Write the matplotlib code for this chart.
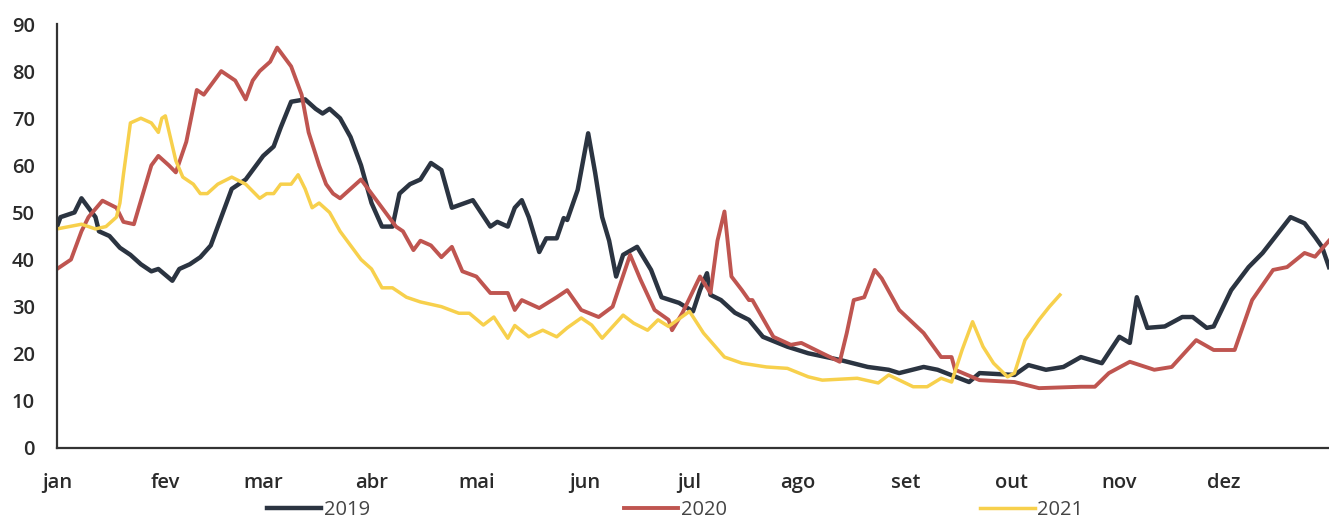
import matplotlib
matplotlib.use("Agg")
import matplotlib.pyplot as plt

plt.rcParams['font.family'] = ['Open Sans', 'DejaVu Sans']

# month ticks (day of year) and labels
month_days = [0, 31, 59, 90, 120, 151, 181, 212, 243, 273, 304, 334]
month_labels = ['jan', 'fev', 'mar', 'abr', 'mai', 'jun', 'jul', 'ago', 'set', 'out', 'nov', 'dez']

# 2019 series (day of year, value)
days_2019 = [0, 1, 5, 7, 11, 12, 15, 18, 21, 24, 27, 29, 33, 35, 38, 41, 44, 47, 50, 54,
             57, 59, 62, 64, 67, 71, 74, 76, 78, 81, 84, 87, 90, 93, 96, 98, 101, 104, 107, 110,
             113, 119, 124, 126, 129, 131, 133, 135, 138, 140, 143, 145, 146, 149, 152, 154, 156, 158, 160, 162,
             166, 170, 173, 178, 182, 184, 186, 187, 190, 194, 198, 202, 209, 215, 224, 232, 238, 241, 248, 252,
             261, 264, 274, 278, 283, 288, 293, 299, 304, 307, 309, 312, 317, 322, 325, 329, 331, 336, 341, 345,
             353, 357, 360, 362, 364]
vals_2019 = [47, 49, 50, 53, 49, 46, 45, 42.5, 41, 39, 37.5, 38, 35.5, 38, 39, 40.5, 43, 49, 55, 57,
             60, 62, 64, 68, 73.5, 74, 72, 71, 72, 70, 66, 60, 52, 47, 47, 54, 56, 57, 60.5, 59,
             51, 52.6, 47, 48, 47, 51, 52.6, 49, 41.6, 44.5, 44.5, 48.8, 48.4, 54.8, 66.8, 58.4, 49, 44, 36.4, 41,
             42.7, 37.8, 32, 30.8, 29, 33.5, 37.1, 32.5, 31.4, 28.7, 27.2, 23.6, 21.5, 20.1, 18.7, 17.2, 16.6, 15.9, 17.2, 16.6,
             14, 15.9, 15.5, 17.6, 16.6, 17.2, 19.3, 18, 23.6, 22.3, 32, 25.5, 25.8, 27.8, 27.8, 25.5, 25.8, 33.5, 38.4, 41.4,
             49, 47.7, 44.8, 42.7, 38.4]

days_2020 = [0, 4, 7, 9, 13, 17, 19, 22, 25, 27, 29, 32, 34, 37, 40, 42, 46, 47, 51, 54,
             56, 58, 61, 63, 67, 70, 72, 75, 77, 79, 81, 84, 87, 90, 94, 97, 99, 102, 104, 107,
             110, 113, 116, 120, 124, 129, 131, 133, 138, 143, 146, 150, 155, 159, 164, 167, 171, 175, 176, 179,
             184, 187, 189, 191, 193, 196, 198, 199, 205, 210, 213, 219, 224, 226, 228, 231, 234, 236, 241, 248,
             253, 256, 257, 264, 274, 281, 293, 297, 301, 307, 314, 319, 326, 331, 337, 342, 348, 352, 357, 360,
             364]
vals_2020 = [38, 40, 46, 49, 52.5, 51, 48, 47.5, 55, 60, 62, 60, 58.5, 65, 76, 75, 79, 80, 78, 74,
             78, 80, 82, 85, 81, 75, 67, 60, 56, 54, 53, 55, 57, 54, 50, 47, 46, 42, 44, 43,
             40.5, 42.7, 37.5, 36.4, 32.9, 32.9, 29.3, 31.4, 29.7, 32, 33.5, 29.3, 27.8, 30, 41, 35.7, 29.3, 27.2, 25, 28.7,
             36.4, 32.9, 44, 50.2, 36.4, 33.5, 31.4, 31.4, 23.6, 21.9, 22.3, 20.1, 18.3, 24.4, 31.4, 32, 37.8, 36, 29.3, 24.4,
             19.3, 19.3, 16.6, 14.4, 14, 12.7, 13, 13, 15.9, 18.3, 16.6, 17.2, 22.9, 20.8, 20.8, 31.4, 37.8, 38.4, 41.4, 40.6,
             44]

days_2021 = [0, 7, 11, 14, 17, 18, 19, 21, 24, 27, 29, 30, 31, 34, 36, 39, 41, 43, 46, 50,
             54, 58, 60, 62, 64, 67, 69, 71, 73, 75, 78, 81, 84, 87, 90, 93, 96, 100, 104, 110,
             115, 118, 122, 125, 129, 131, 135, 139, 143, 146, 150, 153, 156, 162, 165, 169, 172, 175, 181, 185,
             191, 196, 203, 209, 215, 219, 229, 235, 238, 245, 249, 253, 256, 259, 262, 265, 268, 272, 274, 277,
             281, 284, 287]
vals_2021 = [46.5, 47.5, 46.5, 47, 49, 52, 58, 69, 70, 69, 67, 70, 70.5, 61, 57.5, 56, 54, 54, 56, 57.5,
             56, 53, 54, 54, 56, 56, 58, 55, 51, 52, 50, 46, 43, 40, 38, 34, 34, 32, 31, 30,
             28.6, 28.6, 26.1, 27.8, 23.3, 26, 23.6, 25, 23.6, 25.5, 27.6, 26.1, 23.3, 28.2, 26.5, 25, 27.2, 25.8, 29, 24.4,
             19.3, 18, 17.2, 16.9, 15.1, 14.4, 14.8, 13.8, 15.5, 13, 13, 14.8, 14, 20.8, 26.8, 21.5, 18, 15.1, 15.9, 22.9,
             27.2, 30, 32.5]

fig = plt.figure(figsize=(13.29, 5.22), dpi=100)
ax = fig.add_axes([0.0429, 0.1418, 0.9571, 0.8122])

ax.plot(days_2019, vals_2019, color='#2b3441', lw=3.2, label='2019', solid_joinstyle='round')
ax.plot(days_2020, vals_2020, color='#bf5550', lw=2.8, label='2020', solid_joinstyle='round')
ax.plot(days_2021, vals_2021, color='#f7d04c', lw=2.5, label='2021', solid_joinstyle='round')

ax.set_xlim(0, 364)
ax.set_ylim(0, 90)
ax.set_yticks(range(0, 91, 10))
ax.set_xticks(month_days)
ax.set_xticklabels(month_labels)

for s in ['top', 'right']:
    ax.spines[s].set_visible(False)
for s in ['left', 'bottom']:
    ax.spines[s].set_color('#333333')
    ax.spines[s].set_linewidth(1.6)

ax.tick_params(axis='y', length=0, pad=16, labelsize=14.5, labelcolor='#2a2a2a')
ax.tick_params(axis='x', length=0, pad=18, labelsize=14.5, labelcolor='#2a2a2a')
for lbl in ax.get_xticklabels() + ax.get_yticklabels():
    lbl.set_fontweight('semibold')

leg = fig.legend(loc='center', bbox_to_anchor=(0.508, 0.023), ncol=3, frameon=False,
                 fontsize=14.5, handlelength=2.7, handletextpad=0.12, columnspacing=12.6)
for t in leg.get_texts():
    t.set_color('#444444')

fig.savefig('out.png', dpi=100)
